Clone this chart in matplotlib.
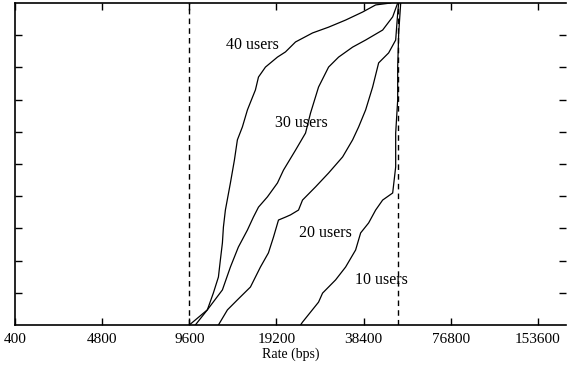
import matplotlib.pyplot as plt
import numpy as np

# x axis: log2 rate axis, left edge labelled "400"
tick_pos = [2400, 4800, 9600, 19200, 38400, 76800, 153600]
tick_labels = ["400", "4800", "9600", "19200", "38400", "76800", "153600"]
dashed_rates = [9600, 50300]

rate_40 = [9600, 11080, 11620, 12100, 12290, 12490, 12590, 12790, 13310, 13740,
           14070, 14640, 15240, 15730, 16240, 16640, 17590, 19350, 20620, 22340,
           25580, 29060, 33270, 38100, 42250, 47620]
cdf_40 = [0.0, 0.047, 0.099, 0.149, 0.202, 0.255, 0.304, 0.357, 0.441, 0.512,
          0.575, 0.615, 0.668, 0.699, 0.730, 0.770, 0.801, 0.832, 0.848, 0.879,
          0.907, 0.925, 0.947, 0.972, 0.994, 1.0]

rate_30 = [10070, 11080, 12490, 13310, 14180, 15240, 15980, 16640, 17870, 19350,
           20300, 22340, 24190, 25170, 26830, 29060, 31470, 35180, 39020, 44670,
           48380, 50350]
cdf_30 = [0.0, 0.047, 0.109, 0.180, 0.242, 0.295, 0.335, 0.366, 0.398, 0.441,
          0.481, 0.543, 0.596, 0.658, 0.739, 0.801, 0.832, 0.863, 0.885, 0.916,
          0.957, 1.0]

rate_20 = [12100, 13000, 14070, 15610, 16900, 18010, 18750, 19510, 20620, 21470,
           22880, 23620, 26200, 29060, 32490, 35180, 36900, 39020, 41250, 43270,
           46850, 49550, 50350, 50750]
cdf_20 = [0.0, 0.047, 0.078, 0.118, 0.180, 0.224, 0.273, 0.326, 0.335, 0.342,
          0.357, 0.388, 0.429, 0.472, 0.522, 0.575, 0.615, 0.668, 0.739, 0.814,
          0.845, 0.885, 0.969, 1.0]

rate_10 = [23250, 23620, 26830, 27700, 30720, 33270, 36030, 37500, 39960, 42250,
           44670, 48380, 49550, 49550, 50350, 50350, 50750, 51570]
cdf_10 = [0.0, 0.009, 0.071, 0.099, 0.140, 0.180, 0.233, 0.286, 0.317, 0.357,
          0.388, 0.410, 0.491, 0.596, 0.699, 0.801, 0.907, 1.0]

labels = ["40 users", "30 users", "20 users", "10 users"]
label_x = [19500, 19050, 22880, 35740]
label_y = [0.87, 0.627, 0.286, 0.14]
label_ha = ["right", "left", "left", "left"]

plt.rcParams["font.family"] = ["Liberation Serif", "DejaVu Serif"]

fig = plt.figure(figsize=(5.68, 3.76), dpi=100)
ax = fig.add_axes([15 / 568, 51 / 376, 551 / 568, 322 / 376])

for r, c in [(rate_40, cdf_40), (rate_30, cdf_30), (rate_20, cdf_20), (rate_10, cdf_10)]:
    ax.plot(r, c, color="black", lw=0.9)

for d in dashed_rates:
    ax.axvline(d, color="black", lw=1.0, ls=(0, (4, 3)))

for t, x, y, ha in zip(labels, label_x, label_y, label_ha):
    ax.text(x, y, t, ha=ha, va="center", fontsize=11.5)

ax.set_xscale("log", base=2)
ax.set_xlim(2400, 192000)
ax.set_ylim(0, 1)
ax.set_xticks(tick_pos)
ax.set_xticklabels(tick_labels, fontsize=11)
ax.xaxis.set_minor_locator(plt.NullLocator())
ax.set_yticks(np.arange(0.1, 1.0, 0.1))
ax.set_yticklabels([])
ax.tick_params(direction="in", top=True, right=True, length=5, width=1, pad=6)
ax.set_xlabel("Rate (bps)", fontsize=10, labelpad=1)
for s in ax.spines.values():
    s.set_linewidth(1.2)
ax.spines["right"].set_visible(False)

fig.savefig("out.png", dpi=100)
